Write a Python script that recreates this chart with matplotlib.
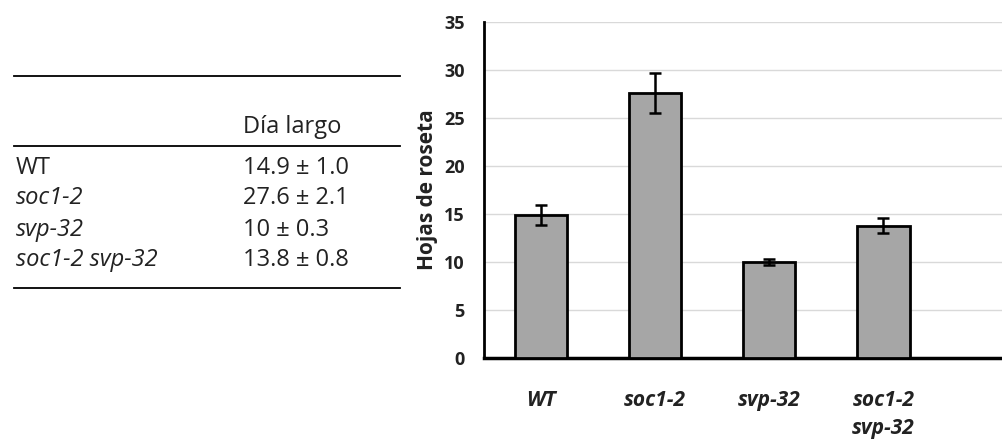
import matplotlib.pyplot as plt
import numpy as np

plt.rcParams['font.family'] = ['Open Sans', 'DejaVu Sans']

genotypes = ['WT', 'soc1-2', 'svp-32', 'soc1-2\nsvp-32']
table_names = ['WT', 'soc1-2', 'svp-32', 'soc1-2 svp-32']
table_vals = ['14.9 ± 1.0', '27.6 ± 2.1', '10 ± 0.3', '13.8 ± 0.8']
leaves = [14.9, 27.6, 10.0, 13.8]
err = [1.0, 2.1, 0.3, 0.8]
yticks = [0, 5, 10, 15, 20, 25, 30, 35]

fig = plt.figure(figsize=(10.02, 4.44), dpi=100)

# table on the left, drawn in figure pixels
W, H = 1002, 444
def fx(px): return px / W
def fy(py): return 1 - py / H

for y in [76, 146, 288]:
    fig.add_artist(plt.Line2D([fx(14), fx(400)], [fy(y), fy(y)], color='black', lw=1.3))
fig.text(fx(243), fy(127), 'Día largo', fontsize=17, va='center', color='#222222')
row_y = [168, 198, 230, 260]
for i, (n, v) in enumerate(zip(table_names, table_vals)):
    fig.text(fx(16), fy(row_y[i]), n, fontsize=17, va='center', color='#222222',
             style='normal' if n == 'WT' else 'italic')
    fig.text(fx(243), fy(row_y[i]), v, fontsize=17, va='center', color='#222222')

# bar chart on the right
ax = fig.add_axes([fx(484), fy(358), fx(1002) - fx(484), fy(22) - fy(358)])
x = np.arange(len(leaves))
ax.bar(x, leaves, width=0.46, color='#a6a6a6', edgecolor='black', linewidth=2, zorder=3)
ax.errorbar(x, leaves, yerr=err, fmt='none', ecolor='black', elinewidth=1.8,
            capsize=4, capthick=1.8, zorder=4)
ax.set_xlim(-0.5, 4.04)
ax.set_ylim(0, 35)
ax.set_yticks(yticks)
ax.set_yticklabels([str(t) for t in yticks], fontsize=13, fontweight='bold', color='#222222')
ax.set_xticks(x)
ax.set_xticklabels(genotypes, fontsize=15, fontweight='bold', style='italic',
                   linespacing=1.45, va='top', color='#222222')
ax.tick_params(axis='both', length=0)
ax.tick_params(axis='x', pad=23)
ax.tick_params(axis='y', pad=14)
ax.grid(axis='y', color='#d9d9d9', lw=1, zorder=0)
for s in ['top', 'right']:
    ax.spines[s].set_visible(False)
ax.spines['left'].set_linewidth(2)
ax.spines['bottom'].set_linewidth(2.5)
ax.set_ylabel('Hojas de roseta', fontsize=15, fontweight='bold', labelpad=4, color='#222222')

fig.savefig('out.png', dpi=100)
